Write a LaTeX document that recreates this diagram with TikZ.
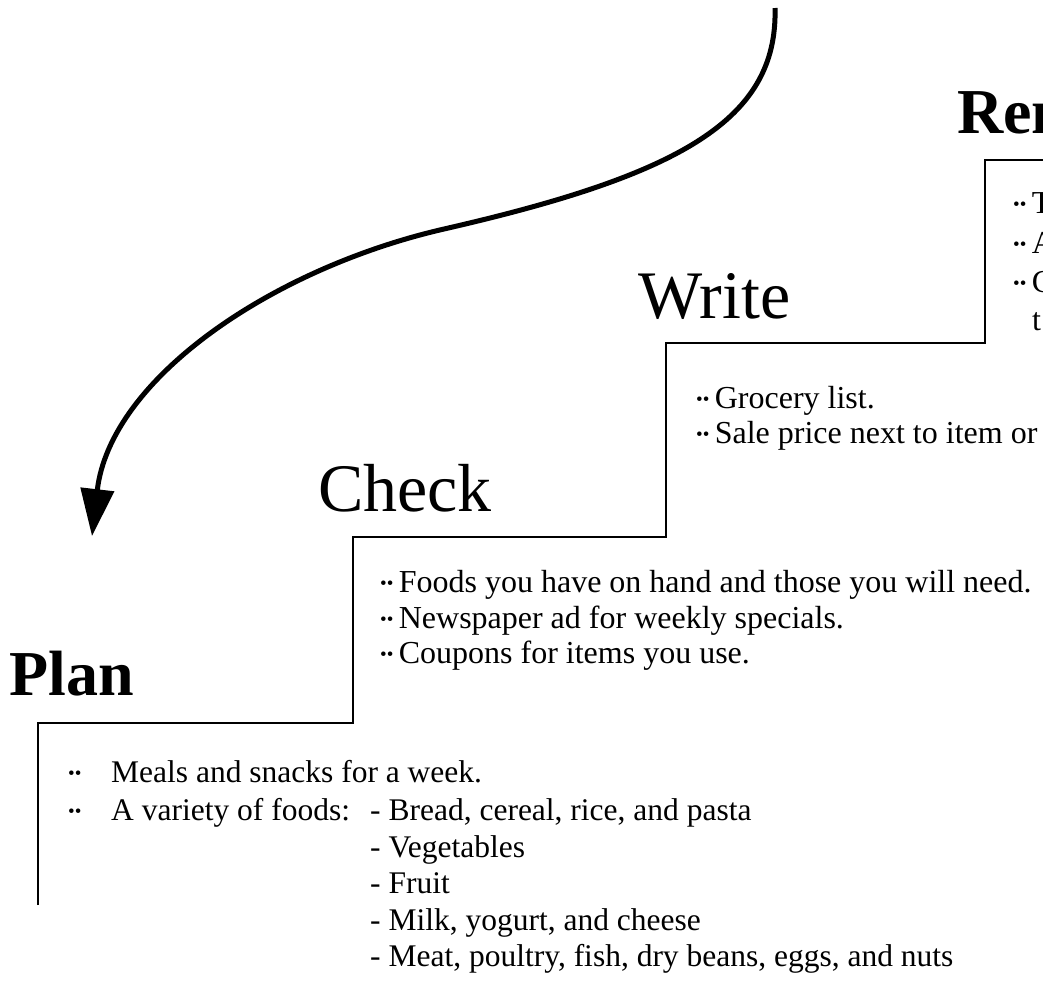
\documentclass[tikz,border=0pt]{standalone}
\usepackage{fontspec}
\setmainfont{Liberation Serif}
\usetikzlibrary{arrows.meta}
\newcommand\stepbul{{\fontsize{19}{19}\selectfont\raisebox{0.25ex}{••}}}
\begin{document}
\begin{tikzpicture}[x=1pt,y=-1pt,
  title/.style={anchor=base west, inner sep=0pt, font=\fontsize{68}{72}\selectfont},
  btitle/.style={anchor=base west, inner sep=0pt, font=\fontsize{64}{70}\selectfont\bfseries},
  item/.style={anchor=base west, inner sep=0pt, font=\fontsize{32}{34}\selectfont},
  pitem/.style={anchor=base west, inner sep=0pt, font=\fontsize{31.5}{34}\selectfont},
  stair/.style={line width=2pt, line join=miter},
  flow/.style={line width=5pt, -{Triangle[length=47pt,width=33pt]}}]
\useasboundingbox (0,0) rectangle (1043,989);
\clip (0,0) rectangle (1043,989);

% staircase
\coordinate (s0) at (38,905);
\coordinate (s1) at (38,723);
\coordinate (s2) at (353,723);
\coordinate (s3) at (353,537);
\coordinate (s4) at (666,537);
\coordinate (s5) at (666,343);
\coordinate (s6) at (985,343);
\coordinate (s7) at (985,160);
\coordinate (s8) at (1043,160);
\draw[stair] (s0) -- (s1) -- (s2) -- (s3) -- (s4) -- (s5) -- (s6) -- (s7) -- (s8);

% curved arrow
\coordinate (a0) at (775,8);
\coordinate (a1) at (444,229);
\coordinate (a2) at (92,536);
\draw[flow] (a0) .. controls (778,120) and (680,175) .. (a1)
            .. controls (270,269) and (110,380) .. (a2);

% titles
\node[btitle] (rem) at (957,133) {Rem};
\node[title] (write) at (638,318) {Write};
\node[title] (check) at (318,511) {Check};
\node[btitle] (plan) at (9,695) {Plan};

% Remember items (cut by the edge)
\node[item] (r1) at (1013,213) {\stepbul\,T};
\node[item] (r2) at (1013,253) {\stepbul\,A};
\node[item] (r3) at (1013,292) {\stepbul\,C};
\node[item] (r4) at (1032,330) {t};

% Write items
\node[item] (w1) at (696,408) {\stepbul\,Grocery list.};
\node[item] (w2) at (696,443) {\stepbul\,Sale price next to item or};

% Check items
\node[item] (c1) at (380,592) {\stepbul\,Foods you have on hand and those you will need.};
\node[item] (c2) at (380,628) {\stepbul\,Newspaper ad for weekly specials.};
\node[item] (c3) at (380,663) {\stepbul\,Coupons for items you use.};

% Plan items
\node[pitem] (p1) at (68,782) {\makebox[43pt][l]{\stepbul}Meals and snacks for a week.};
\node[pitem] (p2) at (68,820) {\makebox[43pt][l]{\stepbul}A variety of foods:};
\node[pitem] (q1) at (370,820) {- Bread, cereal, rice, and pasta};
\node[pitem] (q2) at (370,857) {- Vegetables};
\node[pitem] (q3) at (370,893) {- Fruit};
\node[pitem] (q4) at (370,930) {- Milk, yogurt, and cheese};
\node[pitem] (q5) at (370,966) {- Meat, poultry, fish, dry beans, eggs, and nuts};
\end{tikzpicture}
\end{document}
